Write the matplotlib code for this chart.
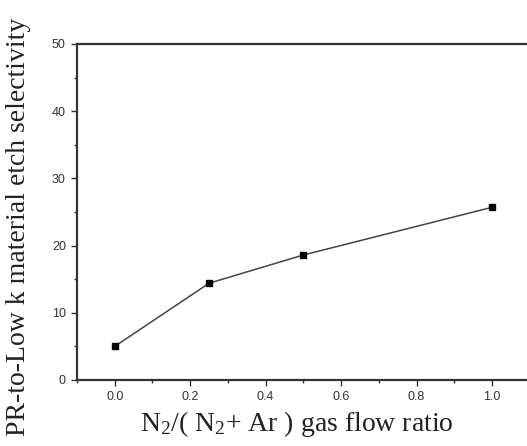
import matplotlib
matplotlib.use('Agg')
import matplotlib.pyplot as plt
from matplotlib.ticker import MultipleLocator

# N2/(N2+Ar) flow ratio vs PR-to-low-k selectivity
ratio = [0.0, 0.25, 0.5, 1.0]
selectivity = [5.0, 14.4, 18.6, 25.7]

serif = 'Liberation Serif'
plt.rcParams['mathtext.fontset'] = 'custom'
plt.rcParams['mathtext.rm'] = serif
plt.rcParams['mathtext.it'] = serif + ':italic'

W, H = 527, 446
fig = plt.figure(figsize=(W/100, H/100), dpi=100)
# axes run a little past the right edge, as in the cropped original
left, right = 77/W, 529.7/W
bottom, top = 1 - 380/H, 1 - 44/H
ax = fig.add_axes([left, bottom, right - left, top - bottom])

ax.plot(ratio, selectivity, color='#444444', lw=1.1,
        marker='s', ms=5, mfc='black', mec='black')

ax.set_xlim(-0.1, 1.1)
ax.set_ylim(0, 50)
ax.xaxis.set_major_locator(MultipleLocator(0.2))
ax.xaxis.set_minor_locator(MultipleLocator(0.1))
ax.yaxis.set_major_locator(MultipleLocator(10))
ax.yaxis.set_minor_locator(MultipleLocator(5))
ax.xaxis.set_major_formatter(plt.FormatStrFormatter('%.1f'))

ax.tick_params(which='both', direction='out', color='#333333',
               top=False, right=False)
ax.tick_params(which='major', length=4, width=1)
ax.tick_params(which='minor', length=2.5, width=1)
ax.tick_params(labelsize=9, labelcolor='#333333', pad=4)
for lab in ax.get_xticklabels() + ax.get_yticklabels():
    lab.set_family('Liberation Sans')

for side in ['left', 'bottom', 'top']:
    ax.spines[side].set_linewidth(1.6)
    ax.spines[side].set_color('#333333')
ax.spines['right'].set_visible(False)

fig.text(19/W, 1 - 227/H, 'PR-to-Low k material etch selectivity',
         rotation=90, ha='center', va='center', family=serif,
         fontsize=20, color='#222222')
fig.text(297/W, 1 - 424/H, r'N$_2$/( N$_2$+ Ar ) gas flow ratio',
         ha='center', va='center', family=serif, fontsize=20,
         color='#222222')

fig.savefig('out.png', dpi=100)
